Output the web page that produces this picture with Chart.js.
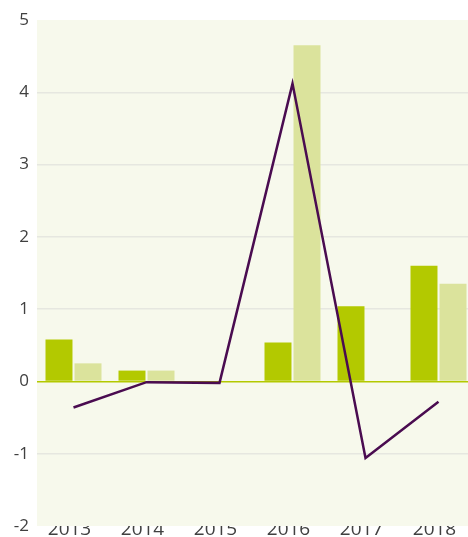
<!DOCTYPE html>
<html>
<head>
<meta charset="utf-8">
<script src="https://cdn.jsdelivr.net/npm/chart.js@4"></script>
<style>
  html, body { margin: 0; padding: 0; background: #fff; overflow: hidden; }
</style>
</head>
<body>
<canvas id="chart" width="475" height="537"></canvas>
<script>
const years = ['2013', '2014', '2015', '2016', '2017', '2018'];
const darkBars = [0.58, 0.15, 0, 0.54, 1.04, 1.60];
const lightBars = [0.25, 0.15, 0, 4.65, 0, 1.35];
const lineValues = [-0.36, -0.01, -0.02, 4.12, -1.06, -0.28];
const yTicks = [-2, -1, 0, 1, 2, 3, 4, 5];

// paint the plot background
const plotBg = {
    id: 'plotBg',
    beforeDraw(chart) {
        const a = chart.chartArea;
        const c = chart.ctx;
        c.save();
        c.fillStyle = '#f7f9ec';
        c.fillRect(a.left, a.top, a.right - a.left, a.bottom - a.top);
        c.restore();
    }
};

const ctx = document.getElementById('chart').getContext('2d');
const chart = new Chart(ctx, {
    type: 'bar',
    data: {
        labels: years,
        datasets: [
            {
                type: 'line',
                data: lineValues,
                borderColor: '#4a0c50',
                borderWidth: 2.5,
                pointRadius: 0,
                tension: 0,
                order: 0
            },
            {
                data: darkBars,
                backgroundColor: '#b3c900',
                categoryPercentage: 0.795,
                barPercentage: 0.93,
                order: 1
            },
            {
                data: lightBars,
                backgroundColor: '#dbe39c',
                categoryPercentage: 0.795,
                barPercentage: 0.93,
                order: 1
            }
        ]
    },
    options: {
        responsive: false,
        animation: false,
        layout: { padding: { top: 20, left: 0, right: 0, bottom: 0 } },
        plugins: {
            legend: { display: false },
            tooltip: { enabled: false }
        },
        scales: {
            x: {
                grid: { display: false },
                border: { display: false },
                afterFit: s => { s.height = 11; s.paddingLeft = 0; s.paddingRight = 0; },
                ticks: {
                    color: '#404040',
                    font: { family: 'Open Sans', size: 19 },
                    padding: -16,
                    labelOffset: -4,
                    maxRotation: 0
                }
            },
            y: {
                min: -2,
                max: 5,
                afterBuildTicks: s => { s.ticks = yTicks.map(v => ({ value: v })); },
                afterFit: s => { s.width = 37; s.paddingTop = 0; s.paddingBottom = 0; },
                border: { display: false },
                grid: {
                    drawTicks: false,
                    lineWidth: 1.5,
                    color: c => {
                        const v = c.tick && c.tick.value;
                        if (v === 0) return '#b3c900';
                        if (v === 5 || v === -2) return 'rgba(0,0,0,0)';
                        return '#e6e7e0';
                    }
                },
                ticks: {
                    color: '#404040',
                    font: { family: 'Open Sans', size: 17 },
                    padding: 8
                }
            }
        }
    },
    plugins: [plotBg]
});
</script>
</body>
</html>
